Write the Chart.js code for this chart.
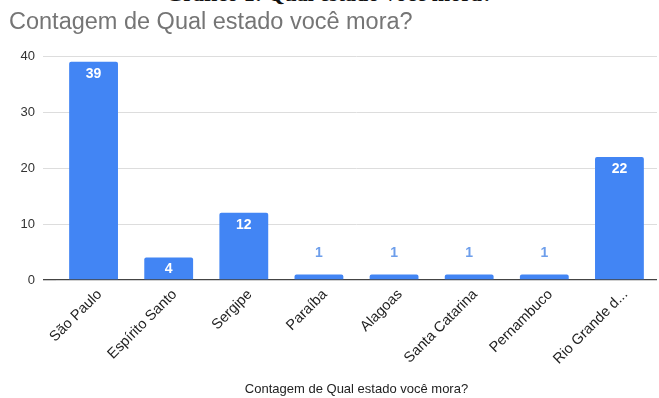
<!DOCTYPE html>
<html>
<head>
<meta charset="utf-8">
<script src="https://cdn.jsdelivr.net/npm/chart.js@4.4.1/dist/chart.umd.min.js"></script>
<style>
  body { margin: 0; background: #fff; }
  #wrap { position: relative; width: 659px; height: 398px; overflow: hidden; }
  #cut { position: absolute; left: 0; width: 659px; top: -19px; text-align: center;
         font: bold 22px "Liberation Serif", serif; color: #111; }
  canvas { position: absolute; left: 0; top: 0; }
</style>
</head>
<body>
<div id="wrap">
  <div id="cut">Gráfico 1: Qual estado você mora?</div>
  <canvas id="chart" width="659" height="398"></canvas>
</div>
<script>
var estados = ["São Paulo", "Espírito Santo", "Sergipe", "Paraíba", "Alagoas", "Santa Catarina", "Pernambuco", "Rio Grande do Sul"]
var contagem = [39, 4, 12, 1, 1, 1, 1, 22]
var yTicks = [0, 10, 20, 30, 40]

var titulo = "Contagem de Qual estado você mora?"
var fonte = '"Liberation Sans", Arial, sans-serif'

// valores em cima das barras (branco dentro, azul fora quando a barra é baixa)
var rotulos = {
  id: 'rotulos',
  afterDatasetsDraw: function(chart) {
    var c = chart.ctx
    var meta = chart.getDatasetMeta(0)
    c.save()
    c.font = 'bold 14px ' + fonte
    c.textAlign = 'center'
    c.textBaseline = 'middle'
    meta.data.forEach(function(bar, i) {
      var h = bar.base - bar.y
      if (h > 20) {
        c.fillStyle = '#ffffff'
        c.fillText(contagem[i], bar.x, bar.y + 12)
      } else {
        c.fillStyle = '#6d9eeb'
        c.fillText(contagem[i], bar.x, bar.y - 21)
      }
    })
    c.restore()
  }
}

var ctx = document.getElementById("chart")

var grafico = new Chart(ctx, {
  type: 'bar',
  data: {
    labels: estados,
    datasets: [{
      label: titulo,
      data: contagem,
      backgroundColor: '#4285f4',
      borderRadius: { topLeft: 2, topRight: 2 },
      borderSkipped: 'bottom',
      barPercentage: 0.65,
      categoryPercentage: 1
    }]
  },
  options: {
    responsive: false,
    animation: false,
    layout: { padding: { left: 9, right: 2, top: 0, bottom: 0 } },
    plugins: {
      legend: { display: false },
      tooltip: { enabled: false },
      title: {
        display: true,
        text: titulo,
        align: 'start',
        color: '#757575',
        font: { family: fonte, size: 23.5, weight: 'normal' },
        padding: { top: 8, bottom: 20 }
      }
    },
    scales: {
      y: {
        min: 0,
        max: 40,
        afterBuildTicks: function(axis) { axis.ticks = yTicks.map(function(v) { return { value: v } }) },
        afterFit: function(axis) { axis.width = 47 },
        border: { display: false },
        grid: {
          color: function(c) { return c.tick.value === 0 ? '#444444' : '#dddddd' },
          lineWidth: function(c) { return c.tick.value === 0 ? 1.3 : 1 },
          tickLength: 13
        },
        ticks: { color: '#333', padding: 8, font: { family: fonte, size: 13 } }
      },
      x: {
        afterFit: function(axis) { axis.height = 118 },
        border: { display: false },
        grid: { display: false },
        ticks: {
          minRotation: 45,
          maxRotation: 45,
          padding: -2,
          labelOffset: 6,
          color: '#222',
          font: { family: fonte, size: 14.5 },
          callback: function(v, i) {
            var s = estados[i]
            return s.length > 15 ? s.slice(0, 12) + '...' : s
          }
        },
        title: {
          display: true,
          text: titulo,
          color: '#222',
          font: { family: fonte, size: 13 },
          padding: { top: 0, bottom: 1 }
        }
      }
    }
  },
  plugins: [rotulos]
})
</script>
</body>
</html>
